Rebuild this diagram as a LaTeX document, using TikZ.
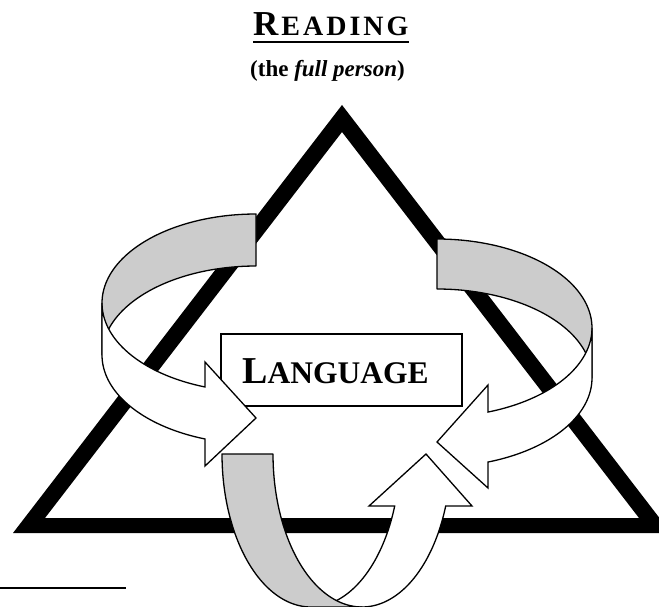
\documentclass[tikz,border=0pt]{standalone}
\usepackage{fontspec}
\setmainfont{Liberation Serif}
\usetikzlibrary{calc}
\begin{document}
\begin{tikzpicture}[x=1pt,y=-1pt,
  back/.style={fill=black!20,draw=black,line width=1.3pt,line join=round},
  front/.style={fill=white,draw=black,line width=1.3pt,line join=miter},
  txt/.style={inner sep=0pt,anchor=base west}]
\useasboundingbox (0,0) rectangle (659,607);
% triangle
\fill[even odd rule] (13,533) -- (342,105) -- (671,533) -- cycle
  (45,518) -- (342,132) -- (639,518) -- cycle;
% title
\node[txt] (title) at (253,36) {\bfseries{\fontsize{35}{40}\selectfont R}\kern3pt{\fontsize{28}{30}\selectfont E\kern3pt A\kern3pt D\kern3pt I\kern3pt N\kern3pt G}};
\draw[line width=2pt] ($(title.base west)+(0,6.3)$) -- ($(title.base east)+(0,6.3)$);
\node[txt] (sub) at (250,77) {\fontsize{23}{28}\selectfont\bfseries (the \textit{full person})};
% language box
\node[draw,line width=1.3pt,fill=white,minimum width=241pt,minimum height=72pt,inner sep=0pt] (box) at (341.5,370) {};
\node[txt] (lang) at (242,383) {\bfseries{\fontsize{38}{44}\selectfont L}{\fontsize{31.5}{36}\selectfont ANGUAGE}};
% left arrow
\filldraw[back] plot[domain=-90:-180,samples=50,variable=\t] ({256+154*cos(\t)},{303+89*sin(\t)})
  -- plot[domain=-180:-90,samples=50,variable=\t] ({256+154*cos(\t)},{355+89*sin(\t)}) -- cycle;
\filldraw[front] plot[domain=180:109.34,samples=50,variable=\t] ({256+154*cos(\t)},{303+89*sin(\t)})
  -- (205,362) -- (256,418) -- (205,466)
  -- plot[domain=109.34:180,samples=50,variable=\t] ({256+154*cos(\t)},{355+89*sin(\t)}) -- cycle;
% right arrow
\filldraw[back] plot[domain=-90:0,samples=50,variable=\t] ({437+155*cos(\t)},{328+89*sin(\t)})
  -- plot[domain=0:-90,samples=50,variable=\t] ({437+155*cos(\t)},{378+89*sin(\t)}) -- cycle;
\filldraw[front] plot[domain=0:70.8,samples=50,variable=\t] ({437+155*cos(\t)},{328+89*sin(\t)})
  -- (488,385) -- (437,442) -- (488,488)
  -- plot[domain=70.8:0,samples=50,variable=\t] ({437+155*cos(\t)},{378+89*sin(\t)}) -- cycle;
% bottom arrow
\filldraw[front] plot[domain=90:19.9,samples=50,variable=\t] ({311+89*cos(\t)},{454+153*sin(\t)})
  -- (369,506) -- (426,454) -- (472,506)
  -- plot[domain=19.9:90,samples=50,variable=\t] ({362+89*cos(\t)},{454+153*sin(\t)}) -- cycle;
\filldraw[back] plot[domain=180:90,samples=50,variable=\t] ({311+89*cos(\t)},{454+153*sin(\t)})
  -- plot[domain=90:180,samples=50,variable=\t] ({362+89*cos(\t)},{454+153*sin(\t)}) -- cycle;
% footnote rule
\draw[line width=2pt] (0,588) -- (126,588);
\end{tikzpicture}
\end{document}
